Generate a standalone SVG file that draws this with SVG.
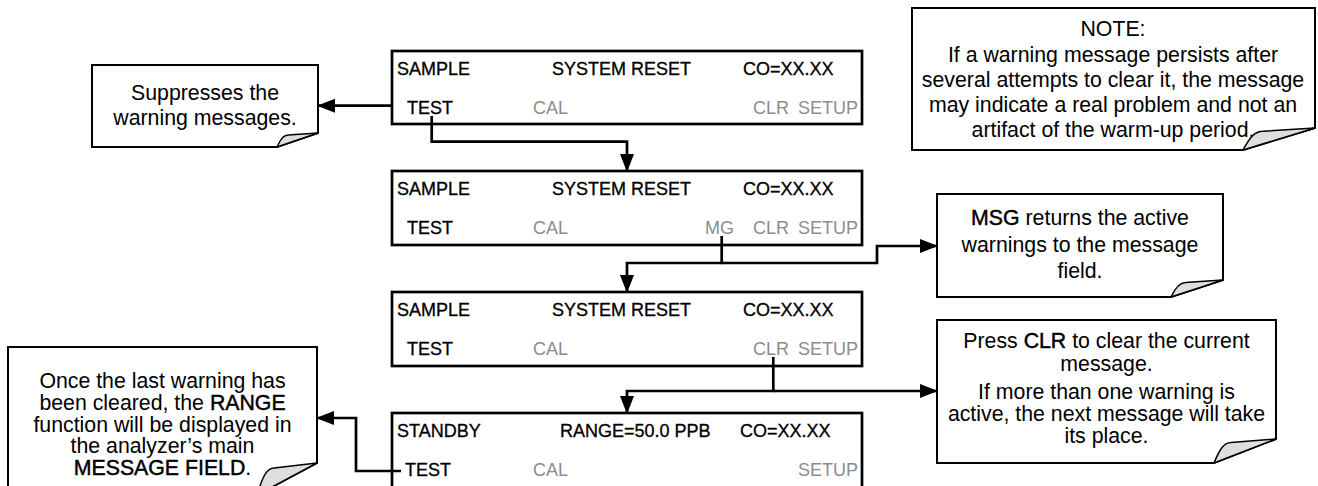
<svg xmlns="http://www.w3.org/2000/svg" width="1318" height="486" viewBox="0 0 1318 486">
<defs>
<style>
.panel{fill:#fff;stroke:#000;stroke-width:2.7}
.callout{fill:#fff;stroke:#000;stroke-width:2}
.curl{fill:#dedede;stroke:#000;stroke-width:1.5;stroke-linejoin:round}
.pt{font-family:"Liberation Sans",Arial,Helvetica,sans-serif;font-size:18px;fill:#000;stroke:#000;stroke-width:0.3}
.pg{fill:#8c8c8c;stroke:none}
.ct{font-family:"Liberation Sans",Arial,Helvetica,sans-serif;font-size:21.3px;fill:#000;text-anchor:middle}
.em{stroke:#000;stroke-width:0.45}
.conn{fill:none;stroke:#000;stroke-width:2.7;marker-end:url(#ah)}
.line{fill:none;stroke:#000;stroke-width:2.7}
</style>
<marker id="ah" markerUnits="userSpaceOnUse" markerWidth="18" markerHeight="14" refX="17" refY="7" orient="auto">
<path d="M0,0 L18,7 L0,14 Z" fill="#000"/>
</marker>
</defs>
<rect width="1318" height="486" fill="#fff"/>

<g id="panel1">
<rect class="panel" x="392" y="51" width="470" height="73"/>
<text class="pt" x="397" y="74.5">SAMPLE</text>
<text class="pt" x="552" y="74.5">SYSTEM RESET</text>
<text class="pt" x="743" y="74.5">CO=XX.XX</text>
<text class="pt" x="407" y="113.5">TEST</text>
<text class="pt pg" x="533" y="113.5">CAL</text>
<text class="pt pg" x="753" y="113.5">CLR</text>
<text class="pt pg" x="798" y="113.5">SETUP</text>
</g>

<g id="panel2">
<rect class="panel" x="392" y="171" width="470" height="74"/>
<text class="pt" x="397" y="194.5">SAMPLE</text>
<text class="pt" x="552" y="194.5">SYSTEM RESET</text>
<text class="pt" x="743" y="194.5">CO=XX.XX</text>
<text class="pt" x="407" y="233.5">TEST</text>
<text class="pt pg" x="533" y="233.5">CAL</text>
<text class="pt pg" x="705" y="233.5">MG</text>
<text class="pt pg" x="753" y="233.5">CLR</text>
<text class="pt pg" x="798" y="233.5">SETUP</text>
</g>

<g id="panel3">
<rect class="panel" x="392" y="292" width="470" height="74"/>
<text class="pt" x="397" y="315.5">SAMPLE</text>
<text class="pt" x="552" y="315.5">SYSTEM RESET</text>
<text class="pt" x="743" y="315.5">CO=XX.XX</text>
<text class="pt" x="407" y="354.5">TEST</text>
<text class="pt pg" x="533" y="354.5">CAL</text>
<text class="pt pg" x="753" y="354.5">CLR</text>
<text class="pt pg" x="798" y="354.5">SETUP</text>
</g>

<g id="panel4">
<rect class="panel" x="392" y="413" width="470" height="85"/>
<text class="pt" x="397" y="436.5">STANDBY</text>
<text class="pt" x="560" y="436.5">RANGE=50.0 PPB</text>
<text class="pt" x="740" y="436.5">CO=XX.XX</text>
<text class="pt" x="405" y="475.5">TEST</text>
<text class="pt pg" x="533" y="475.5">CAL</text>
<text class="pt pg" x="798" y="475.5">SETUP</text>
</g>

<g id="callout-suppress">
<path class="callout" d="M92 65 H318 V133 L277 147 H92 Z"/>
<path class="curl" d="M277 147 C280.3 140 283 135 288.5 135 L318 133 Z"/>
<text class="ct" x="205" y="100">Suppresses the</text>
<text class="ct" x="205" y="125">warning messages.</text>
</g>

<g id="callout-note">
<path class="callout" d="M912 8 H1315 V128 L1243 150 H912 Z"/>
<path class="curl" d="M1243 150 C1249 139 1254 131.3 1263 131.3 L1315 128 Z"/>
<text class="ct" x="1113" y="36">NOTE:</text>
<text class="ct" x="1113" y="62">If a warning message persists after</text>
<text class="ct" x="1113" y="87">several attempts to clear it, the message</text>
<text class="ct" x="1113" y="112">may indicate a real problem and not an</text>
<text class="ct" x="1113" y="137">artifact of the warm-up period.</text>
</g>

<g id="callout-msg">
<path class="callout" d="M937 194 H1223 V280 L1171 297 H937 Z"/>
<path class="curl" d="M1171 297 C1175 288.5 1179 282.5 1185.5 282.5 L1223 280 Z"/>
<text class="ct" x="1080" y="225"><tspan class="em">MSG</tspan> returns the active</text>
<text class="ct" x="1080" y="252">warnings to the message</text>
<text class="ct" x="1080" y="278">field.</text>
</g>

<g id="callout-clr">
<path class="callout" d="M937 320 H1276 V439 L1214 463 H937 Z"/>
<path class="curl" d="M1214 463 C1219 451 1223.3 442.6 1231 442.6 L1276 439 Z"/>
<text class="ct" x="1106.5" y="348">Press <tspan class="em">CLR</tspan> to clear the current</text>
<text class="ct" x="1106.5" y="371">message.</text>
<text class="ct" x="1106.5" y="399">If more than one warning is</text>
<text class="ct" x="1106.5" y="421">active, the next message will take</text>
<text class="ct" x="1106.5" y="443">its place.</text>
</g>

<g id="callout-range">
<path class="callout" d="M8 347 H317 V463 L257 495 H8 Z"/>
<path class="curl" d="M257 495 C262 479 266 468 274 468 L317 463 Z"/>
<text class="ct" x="162.5" y="388">Once the last warning has</text>
<text class="ct" x="162.5" y="410">been cleared, the <tspan class="em">RANGE</tspan></text>
<text class="ct" x="162.5" y="432">function will be displayed in</text>
<text class="ct" x="162.5" y="453">the analyzer’s main</text>
<text class="ct" x="162.5" y="475"><tspan class="em">MESSAGE FIELD</tspan>.</text>
</g>

<g id="connectors">
<path class="conn" d="M392 105.7 H318"/>
<path class="conn" d="M431.7 116 V141.7 H627 V171"/>
<path class="conn" d="M721.7 236 V263 H627 V292"/>
<path class="conn" d="M721.7 263 H877 V246 H937"/>
<path class="conn" d="M773.3 357 V391 H627 V413"/>
<path class="conn" d="M773.3 391 H937"/>
<path class="conn" d="M401 471 H356 V418 H317"/>
</g>
</svg>
